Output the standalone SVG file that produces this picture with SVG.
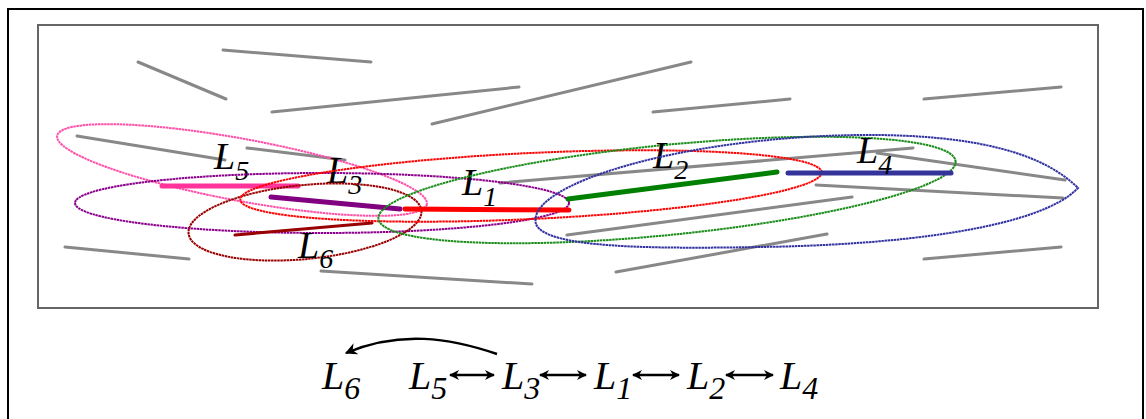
<svg xmlns="http://www.w3.org/2000/svg" width="1146" height="419" viewBox="0 0 1146 419">
<defs>
<marker id="ah" viewBox="0 0 10 10" refX="9" refY="5" markerWidth="11" markerHeight="10" markerUnits="userSpaceOnUse" orient="auto-start-reverse">
<path d="M0,0 L10,5 L0,10 L3,5 Z" fill="#000"/>
</marker>
<marker id="ah2" viewBox="0 0 10 10" refX="9" refY="5" markerWidth="13" markerHeight="12" markerUnits="userSpaceOnUse" orient="auto">
<path d="M0,0 L10,5 L0,10 L3,5 Z" fill="#000"/>
</marker>
</defs>
<style>
.bg{stroke:#888;stroke-width:3;stroke-linecap:round;fill:none}
.ell{fill:none;stroke-width:2;stroke-dasharray:2.5 0.6}
.seg{stroke-width:5;stroke-linecap:round;fill:none}
.lab{font-family:"Liberation Serif",serif;font-style:italic;font-size:38px;fill:#000}
.sub{font-size:28px}
.big{font-size:40px}
.bsub{font-size:32px}
.arr{stroke:#000;stroke-width:2.4;fill:none}
</style>
<rect x="8" y="9" width="1135" height="420" fill="#fff" stroke="#000" stroke-width="2"/>
<rect x="38" y="25" width="1060" height="283" fill="#fff" stroke="#666" stroke-width="2"/>
<g id="background-lines">
<line class="bg" x1="223" y1="50" x2="371" y2="62"/>
<line class="bg" x1="138" y1="62" x2="226" y2="99"/>
<line class="bg" x1="272" y1="112" x2="519" y2="87"/>
<line class="bg" x1="432" y1="124" x2="691" y2="62"/>
<line class="bg" x1="653" y1="112" x2="790" y2="99"/>
<line class="bg" x1="924" y1="99" x2="1061" y2="87"/>
<line class="bg" x1="77" y1="136" x2="225" y2="160"/>
<line class="bg" x1="247" y1="148" x2="345" y2="160"/>
<line class="bg" x1="65" y1="247" x2="189" y2="259"/>
<line class="bg" x1="321" y1="271" x2="532" y2="284"/>
<line class="bg" x1="500" y1="183" x2="913" y2="148"/>
<line class="bg" x1="877" y1="153" x2="1065" y2="180"/>
<line class="bg" x1="816" y1="185" x2="1063" y2="198"/>
<line class="bg" x1="567" y1="235" x2="852" y2="197"/>
<line class="bg" x1="616" y1="272" x2="827" y2="234"/>
<line class="bg" x1="924" y1="259" x2="1061" y2="247"/>
</g>
<g id="L5">
<ellipse class="ell" stroke="#ff4fa8" cx="242" cy="170" rx="188" ry="31" transform="rotate(10.5 242 170)"/>
<line class="seg" stroke="#ff3399" x1="162" y1="186" x2="298" y2="186"/>
<text class="lab" x="214" y="169">L<tspan class="sub" dy="11">5</tspan></text>
</g>
<g id="L3">
<ellipse class="ell" stroke="#8b008b" cx="322" cy="203" rx="247" ry="30"/>
<line class="seg" stroke="#800080" x1="271" y1="197" x2="400" y2="209"/>
<text class="lab" x="327" y="183">L<tspan class="sub" dy="11">3</tspan></text>
</g>
<g id="L6">
<ellipse class="ell" stroke="#990000" cx="305" cy="222" rx="117" ry="37" transform="rotate(-5.6 305 222)"/>
<line stroke="#990000" stroke-width="3" stroke-linecap="round" x1="235" y1="235" x2="372" y2="223"/>
<text class="lab" x="298" y="258">L<tspan class="sub" dy="10">6</tspan></text>
</g>
<g id="L1">
<ellipse class="ell" stroke="#ff0000" cx="531" cy="186" rx="291" ry="33" transform="rotate(-2.7 531 186)"/>
<line class="seg" stroke="#ff0000" x1="405" y1="209" x2="569" y2="210"/>
<text class="lab" x="462" y="195">L<tspan class="sub" dy="11">1</tspan></text>
</g>
<g id="L2">
<ellipse class="ell" stroke="#1a8c1a" cx="667" cy="190" rx="290" ry="45" transform="rotate(-5.7 667 190)"/>
<line class="seg" stroke="#008000" x1="568" y1="199" x2="777" y2="172"/>
<text class="lab" x="653" y="168">L<tspan class="sub" dy="11">2</tspan></text>
</g>
<g id="L4">
<path class="ell" stroke="#3333a0" d="M536,224 C525,185 680,137 860,135 C980,134 1045,155 1078,188 C1040,228 900,245 760,247 C650,249 545,248 536,224 Z"/>
<line class="seg" stroke="#333399" x1="788" y1="173" x2="951" y2="173"/>
<text class="lab" x="857" y="163">L<tspan class="sub" dy="11">4</tspan></text>
</g>
<g id="connectors">
<path class="arr" d="M497,354 C450,338 400,330 346,353" marker-end="url(#ah2)"/>
<line class="arr" x1="450" y1="375" x2="494" y2="375" marker-start="url(#ah)" marker-end="url(#ah)"/>
<line class="arr" x1="540" y1="375" x2="586" y2="375" marker-start="url(#ah)" marker-end="url(#ah)"/>
<line class="arr" x1="633" y1="375" x2="679" y2="375" marker-start="url(#ah)" marker-end="url(#ah)"/>
<line class="arr" x1="726" y1="375" x2="773" y2="375" marker-start="url(#ah)" marker-end="url(#ah)"/>
</g>
<g id="chain">
<text class="lab big" x="322" y="389">L<tspan class="bsub" dy="10">6</tspan></text>
<text class="lab big" x="409" y="389">L<tspan class="bsub" dy="10">5</tspan></text>
<text class="lab big" x="502" y="389">L<tspan class="bsub" dy="10">3</tspan></text>
<text class="lab big" x="594" y="389">L<tspan class="bsub" dy="10">1</tspan></text>
<text class="lab big" x="687" y="389">L<tspan class="bsub" dy="10">2</tspan></text>
<text class="lab big" x="780" y="389">L<tspan class="bsub" dy="10">4</tspan></text>
</g>
</svg>
